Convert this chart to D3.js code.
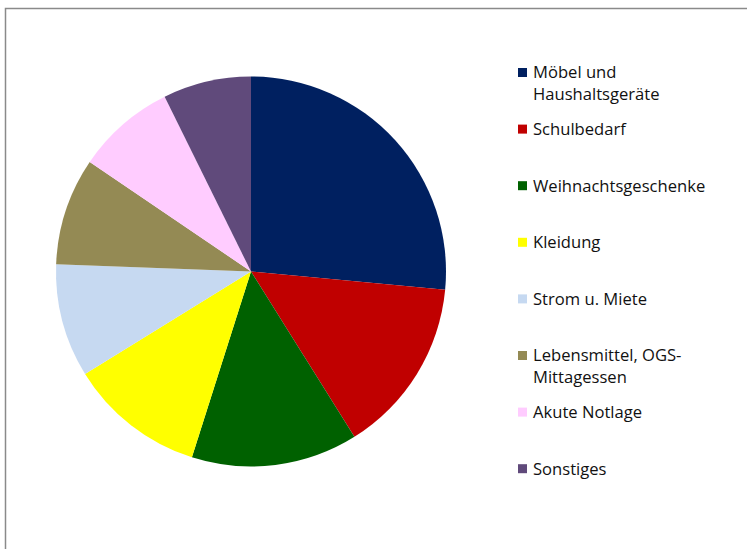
<!DOCTYPE html>
<html><head><meta charset="utf-8">
<script src="https://cdn.jsdelivr.net/npm/d3@7"></script>
<style>html,body{margin:0;padding:0;background:#fff;overflow:hidden}</style>
</head><body>
<svg id="chart" width="747" height="549"></svg>
<script>
const categories = ["Möbel und Haushaltsgeräte","Schulbedarf","Weihnachtsgeschenke","Kleidung","Strom u. Miete","Lebensmittel, OGS-Mittagessen","Akute Notlage","Sonstiges"];
const legendLines = [["Möbel und","Haushaltsgeräte"],["Schulbedarf"],["Weihnachtsgeschenke"],["Kleidung"],["Strom u. Miete"],["Lebensmittel, OGS-","Mittagessen"],["Akute Notlage"],["Sonstiges"]];
const values = [26.5,14.6,13.8,11.3,9.4,8.9,8.2,7.3];
const colors = ["#002060","#C00000","#006100","#FFFF00","#C6D9F1","#948A54","#FFCCFF","#604A7B"];

const svg = d3.select("#chart");
svg.append("rect").attr("x",5.5).attr("y",8.5).attr("width",760).attr("height",560)
  .attr("fill","#fff").attr("stroke","#8a8a8a").attr("stroke-width",1.5);

const cx=251, cy=271.5, r=195;
const pie = d3.pie().sort(null).value(d=>d.v);
const arc = d3.arc().innerRadius(0).outerRadius(r);
const data = categories.map((c,i)=>({c, v:values[i], col:colors[i]}));
const g = svg.append("g").attr("transform",`translate(${cx},${cy})`);
g.selectAll("path").data(pie(data)).join("path")
  .attr("d",arc).attr("fill",d=>d.data.col);

const lg = svg.append("g").attr("font-family","'Open Sans', Lato, sans-serif").attr("font-size",16.6).attr("fill","#111");
const step = 56.6, y0 = 72.5;
legendLines.forEach((lines,i)=>{
  const y = y0 + i*step;
  lg.append("rect").attr("x",518).attr("y",y-4.5).attr("width",9).attr("height",9).attr("fill",colors[i]);
  lines.forEach((t,j)=>{
    lg.append("text").attr("x",533).attr("y",y+j*22).attr("dy","0.35em").text(t);
  });
});
</script>
</body></html>
